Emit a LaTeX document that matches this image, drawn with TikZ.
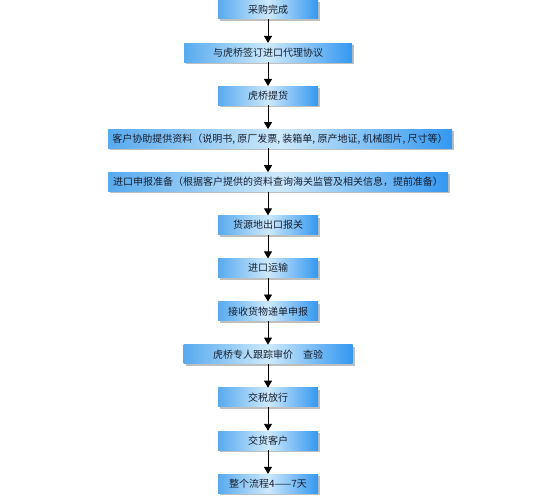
\documentclass[tikz,border=0pt]{standalone}
\usepackage{fontspec}
\setmainfont{Noto Sans CJK SC}
\usetikzlibrary{shapes, arrows.meta, positioning, calc, shadows}

\definecolor{leftblue}{RGB}{88,170,238}
\definecolor{midblue}{RGB}{205,233,251}
\definecolor{rightblue}{RGB}{52,152,240}
\definecolor{textdark}{RGB}{22,30,48}

\begin{document}
\begin{tikzpicture}[x=1pt, y=1pt, node distance=23.7pt and 0pt,
	flow/.style={rectangle, minimum height=19pt, minimum width=100pt, inner sep=2pt,
		left color=leftblue, right color=rightblue, middle color=midblue,
		drop shadow={shadow xshift=2pt, shadow yshift=-2pt, fill=black, opacity=0.25},
		text=textdark, font=\fontsize{10}{12}\selectfont},
	link/.style={-{Triangle[length=7pt,width=8pt]}, line width=0.9pt}]
			\useasboundingbox (0,0) rectangle (538,-500);
			\node[flow] (a) at (268,-9.5) {采购完成};
			\node[below =of a, flow, minimum width=168pt] (b) {与虎桥签订进口代理协议};
			\node[below =of b, flow] (c) {虎桥提货};
			\node[below =of c, flow, minimum width=344pt, xshift=12pt] (d) {客户协助提供资料（说明书, 原厂发票, 装箱单, 原产地证, 机械图片, 尺寸等）};
			\node[below =of d, flow, minimum width=340pt, xshift=-2pt] (e) {进口申报准备（根据客户提供的资料查询海关监管及相关信息，提前准备）};
			\node[below =of e, flow, xshift=-10pt] (f) {货源地出口报关};
			\node[below =of f, flow] (g) {进口运输};
			\node[below =of g, flow] (h) {接收货物递单申报};
			\node[below =of h, flow, minimum width=169pt] (i) {虎桥专人跟踪审价\quad 查验};
			\node[below =of i, flow] (j) {交税放行};
			\node[below =of j, flow] (k) {交货客户};
			\node[below =of k, flow] (l) {整个流程4——7天};
			\foreach \from/\to in {a/b,b/c,c/d,d/e,e/f,f/g,g/h,h/i,i/j,j/k,k/l}
				\draw[link] (a |- \from.south) -- (a |- \to.north);
		\end{tikzpicture}
\end{document}
